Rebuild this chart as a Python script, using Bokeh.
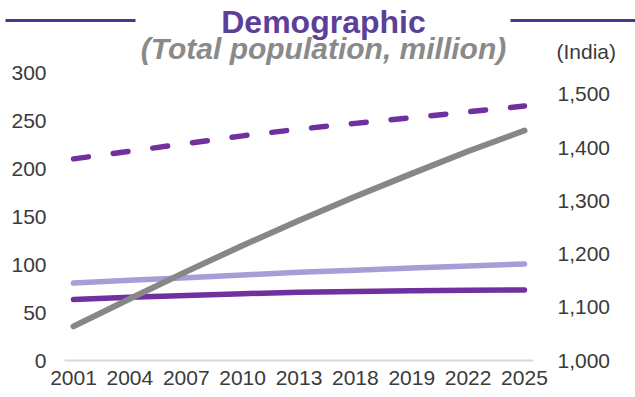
from bokeh.plotting import figure
from bokeh.layouts import column
from bokeh.models import (Range1d, LinearAxis, FixedTicker, NumeralTickFormatter,
                          Label, BoxAnnotation, ColumnDataSource)
from bokeh.embed import file_html
from bokeh.resources import INLINE

# ---- data ----
years = ["2001", "2004", "2007", "2010", "2013", "2018", "2019", "2022", "2025"]
india = [1064, 1116, 1167, 1216, 1263, 1308, 1351, 1393, 1432]          # right axis
dashed_series = [210, 218, 226, 234, 241, 247, 253, 259, 265]           # left axis
light_series = [80.7, 83.5, 86.3, 89.1, 91.9, 94.1, 96.3, 98.4, 100.5]  # left axis
dark_series = [63.6, 65.8, 67.8, 69.6, 71.0, 71.9, 72.6, 73.1, 73.4]    # left axis
left_ticks = [0, 50, 100, 150, 200, 250, 300]
right_ticks = [1000, 1100, 1200, 1300, 1400, 1500]

title_text = "Demographic"
subtitle_text = "(Total population, million)"
right_axis_note = "(India)"

FONT = "Liberation Sans"
TICK_COLOR = "#3a3a3a"
W = 635
HEADER_H = 65
MAIN_H = 397 - HEADER_H

# ---------------- header ----------------
hdr = figure(width=W, height=HEADER_H, output_backend="svg", toolbar_location=None,
             title=None, x_range=Range1d(0, W), y_range=Range1d(HEADER_H, 0),
             x_axis_type=None, y_axis_type=None,
             min_border_left=0, min_border_right=0, min_border_top=0, min_border_bottom=0)
hdr.outline_line_color = None
hdr.xgrid.visible = False
hdr.ygrid.visible = False
hdr.add_layout(Label(x=323, y=21, text=title_text, text_align="center",
                     text_baseline="alphabetic", text_font=FONT, text_font_style="bold",
                     text_font_size="32px", text_color="#5B3F99"))
hdr.add_layout(Label(x=323, y=48, text=subtitle_text, text_align="center",
                     text_baseline="alphabetic", text_font=FONT,
                     text_font_style="bold italic", text_font_size="30px",
                     text_color="#8A8A8A"))
hdr.add_layout(Label(x=556, y=51, text=right_axis_note, text_align="left",
                     text_baseline="alphabetic", text_font=FONT, text_font_size="21px",
                     text_color=TICK_COLOR))
hdr.add_layout(BoxAnnotation(left=5, right=135, top=18.5, bottom=21.5,
                             fill_color="#3F3A8F", fill_alpha=1, line_color=None))
hdr.add_layout(BoxAnnotation(left=510, right=W, top=18.5, bottom=21.5,
                             fill_color="#3F3A8F", fill_alpha=1, line_color=None))

# ---------------- main chart ----------------
idx = list(range(len(years)))
src = ColumnDataSource(dict(x=idx, india=india, dashed=dashed_series,
                            light=light_series, dark=dark_series))

p = figure(width=W, height=MAIN_H, output_backend="svg", toolbar_location=None, title=None,
           x_range=Range1d(-0.16, 8.16), y_range=Range1d(0, 300),
           min_border_left=64, min_border_right=102, min_border_top=7, min_border_bottom=37)
p.outline_line_color = None
p.xgrid.visible = False
p.ygrid.visible = False
p.extra_y_ranges = {"india": Range1d(1000, 1541)}

# keep the header's frame independent of the chart's frame
for fig in (hdr, p):
    if hasattr(fig, "frame_align"):
        fig.frame_align = False

def style_axis(ax, standoff):
    ax.major_tick_line_color = None
    ax.minor_tick_line_color = None
    ax.major_tick_out = 0
    ax.major_tick_in = 0
    ax.minor_tick_out = 0
    ax.minor_tick_in = 0
    ax.major_label_standoff = standoff
    ax.major_label_text_font = FONT
    ax.major_label_text_font_size = "21px"
    ax.major_label_text_color = TICK_COLOR

xa = p.xaxis[0]
xa.ticker = FixedTicker(ticks=idx)
xa.major_label_overrides = {i: y for i, y in zip(idx, years)}
xa.axis_line_color = "#D9D9D9"
xa.axis_line_width = 2
style_axis(xa, 10)

ya = p.yaxis[0]
ya.ticker = FixedTicker(ticks=left_ticks)
ya.axis_line_color = None
style_axis(ya, 18)

ra = LinearAxis(y_range_name="india", ticker=FixedTicker(ticks=right_ticks),
                formatter=NumeralTickFormatter(format="0,0"))
ra.axis_line_color = None
style_axis(ra, 24)
p.add_layout(ra, "right")

p.line("x", "light", source=src, line_color="#A79DD7", line_width=5.5, line_cap="round")
p.line("x", "dark", source=src, line_color="#7030A0", line_width=5.5, line_cap="round")
p.line("x", "dashed", source=src, line_color="#7030A0", line_width=5.5, line_cap="round",
       line_dash="15 25")
p.line("x", "india", source=src, y_range_name="india", line_color="#878787",
       line_width=6, line_cap="round")

layout = column(hdr, p, spacing=0)
open("out.html", "w").write(file_html(layout, INLINE))
